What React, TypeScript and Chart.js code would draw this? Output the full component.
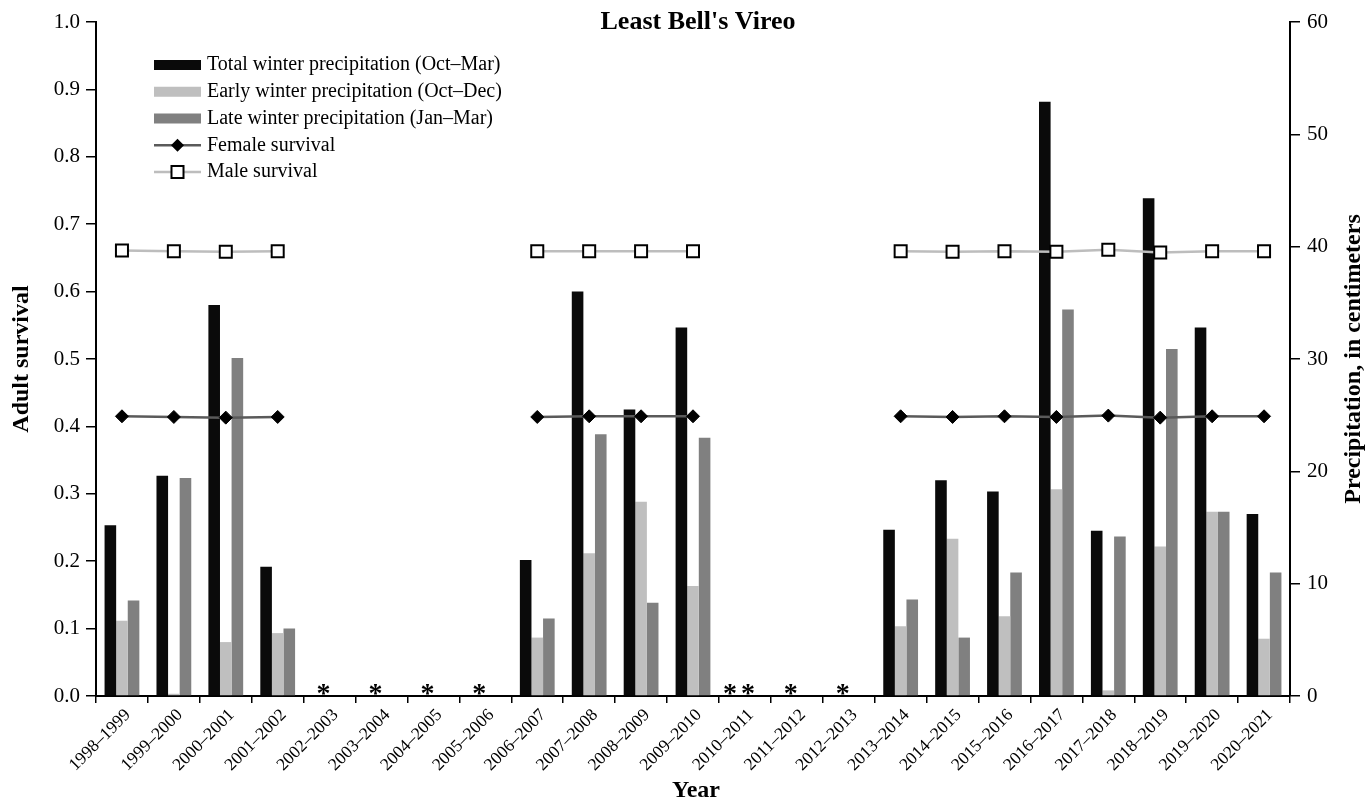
import React, { useEffect, useRef } from "react";
import { Chart, registerables } from "chart.js";

Chart.register(...registerables);

const years = [
  "1998–1999", "1999–2000", "2000–2001", "2001–2002", "2002–2003", "2003–2004",
  "2004–2005", "2005–2006", "2006–2007", "2007–2008", "2008–2009", "2009–2010",
  "2010–2011", "2011–2012", "2012–2013", "2013–2014", "2014–2015", "2015–2016",
  "2016–2017", "2017–2018", "2018–2019", "2019–2020", "2020–2021",
];

// precipitation, centimeters (right axis)
const totalPrecip = [15.2, 19.6, 34.8, 11.5, null, null, null, null, 12.1, 36.0, 25.5, 32.8, null, null, null, 14.8, 19.2, 18.2, 52.9, 14.7, 44.3, 32.8, 16.2];
const earlyPrecip = [6.7, 0.2, 4.8, 5.6, null, null, null, null, 5.2, 12.7, 17.3, 9.8, null, null, null, 6.2, 14.0, 7.1, 18.4, 0.5, 13.3, 16.4, 5.1];
const latePrecip = [8.5, 19.4, 30.1, 6.0, null, null, null, null, 6.9, 23.3, 8.3, 23.0, null, null, null, 8.6, 5.2, 11.0, 34.4, 14.2, 30.9, 16.4, 11.0];

// adult survival (left axis)
const femaleSurvival = [0.415, 0.414, 0.413, 0.414, null, null, null, null, 0.414, 0.415, 0.415, 0.415, null, null, null, 0.415, 0.414, 0.415, 0.414, 0.416, 0.413, 0.415, 0.415];
const maleSurvival = [0.661, 0.660, 0.659, 0.660, null, null, null, null, 0.660, 0.660, 0.660, 0.660, null, null, null, 0.660, 0.659, 0.660, 0.659, 0.662, 0.658, 0.660, 0.660];

// number of asterisks shown for years without data
const missingMarks = [0, 0, 0, 0, 1, 1, 1, 1, 0, 0, 0, 0, 2, 1, 1, 0, 0, 0, 0, 0, 0, 0, 0];

const seriesLabels = [
  "Total winter precipitation (Oct–Mar)",
  "Early winter precipitation (Oct–Dec)",
  "Late winter precipitation (Jan–Mar)",
  "Female survival",
  "Male survival",
];

const chartTitle = "Least Bell's Vireo";
const leftTitle = "Adult survival";
const rightTitle = "Precipitation, in centimeters";
const bottomTitle = "Year";

const SERIF = '"Liberation Serif", "Times New Roman", serif';

const overlayPlugin = {
  id: "overlay",
  afterDatasetsDraw(chart: any) {
    const { ctx, chartArea, scales } = chart;
    const xs = scales.x;
    ctx.save();
    ctx.fillStyle = "#000";
    ctx.font = `bold 28px ${SERIF}`;
    ctx.textAlign = "center";
    ctx.textBaseline = "alphabetic";
    missingMarks.forEach((n, i) => {
      if (!n) return;
      const cx = xs.getPixelForValue(i) - 6;
      for (let k = 0; k < n; k++) {
        const px = cx + (k - (n - 1) / 2) * 18;
        ctx.fillText("*", px, chartArea.bottom + 6);
      }
    });
    ctx.restore();
  },
  afterDraw(chart: any) {
    const { ctx, chartArea } = chart;
    const midX = (chartArea.left + chartArea.right) / 2;
    const midY = (chartArea.top + chartArea.bottom) / 2;
    ctx.save();
    ctx.fillStyle = "#000";
    // chart title
    ctx.font = `bold 26px ${SERIF}`;
    ctx.textAlign = "center";
    ctx.textBaseline = "middle";
    ctx.fillText(chartTitle, midX + 5, chartArea.top);
    // axis titles
    ctx.font = `bold 24px ${SERIF}`;
    ctx.save();
    ctx.translate(22, midY);
    ctx.rotate(-Math.PI / 2);
    ctx.fillText(leftTitle, 0, 0);
    ctx.restore();
    ctx.save();
    ctx.translate(1354, midY);
    ctx.rotate(-Math.PI / 2);
    ctx.fillText(rightTitle, 0, 0);
    ctx.restore();
    ctx.fillText(bottomTitle, midX + 3, 791);

    // legend
    const lx = chartArea.left + 58;
    const lw = 47;
    const y0 = 65;
    const dy = 26.75;
    ctx.font = `20px ${SERIF}`;
    ctx.textAlign = "left";
    chart.data.datasets.forEach((ds: any, i: number) => {
      const y = y0 + i * dy;
      if (ds.type === "bar") {
        ctx.fillStyle = ds.backgroundColor;
        ctx.fillRect(lx, y - 5, lw, 10);
      } else {
        ctx.strokeStyle = ds.borderColor;
        ctx.lineWidth = ds.borderWidth;
        ctx.beginPath();
        ctx.moveTo(lx, y);
        ctx.lineTo(lx + lw, y);
        ctx.stroke();
        const cx = lx + lw / 2;
        if (ds.pointStyle === "rectRot") {
          const r = ds.pointRadius;
          ctx.fillStyle = ds.pointBackgroundColor;
          ctx.beginPath();
          ctx.moveTo(cx - r, y);
          ctx.lineTo(cx, y - r);
          ctx.lineTo(cx + r, y);
          ctx.lineTo(cx, y + r);
          ctx.closePath();
          ctx.fill();
        } else {
          const h = ds.pointRadius * Math.SQRT1_2;
          ctx.fillStyle = ds.pointBackgroundColor;
          ctx.fillRect(cx - h, y - h, 2 * h, 2 * h);
          ctx.strokeStyle = ds.pointBorderColor;
          ctx.lineWidth = ds.pointBorderWidth;
          ctx.strokeRect(cx - h, y - h, 2 * h, 2 * h);
        }
      }
      ctx.fillStyle = "#000";
      ctx.fillText(ds.label, lx + lw + 6, y);
    });
    ctx.restore();
  },
};

export default function App() {
  const canvasRef = useRef<HTMLCanvasElement | null>(null);

  useEffect(() => {
    if (!canvasRef.current) return;
    Chart.defaults.font.family = SERIF;
    const barCommon = {
      type: "bar" as const,
      yAxisID: "y1",
      categoryPercentage: 0.67,
      barPercentage: 1.0,
      borderWidth: 0,
      order: 1,
    };
    const chart = new Chart(canvasRef.current, {
      type: "bar",
      data: {
        labels: years,
        datasets: [
          { ...barCommon, label: seriesLabels[0], data: totalPrecip, backgroundColor: "#0a0a0a" },
          { ...barCommon, label: seriesLabels[1], data: earlyPrecip, backgroundColor: "#bfbfbf" },
          { ...barCommon, label: seriesLabels[2], data: latePrecip, backgroundColor: "#808080" },
          {
            type: "line",
            label: seriesLabels[3],
            data: femaleSurvival,
            yAxisID: "y",
            borderColor: "#5a5a5a",
            borderWidth: 2.5,
            pointStyle: "rectRot",
            pointRadius: 6.5,
            pointBackgroundColor: "#000",
            pointBorderColor: "#000",
            pointBorderWidth: 1,
            spanGaps: false,
            tension: 0,
            order: 0,
          } as any,
          {
            type: "line",
            label: seriesLabels[4],
            data: maleSurvival,
            yAxisID: "y",
            borderColor: "#bdbdbd",
            borderWidth: 2.5,
            pointStyle: "rect",
            pointRadius: 8.5,
            pointBackgroundColor: "#fff",
            pointBorderColor: "#000",
            pointBorderWidth: 2,
            spanGaps: false,
            tension: 0,
            order: 0,
          } as any,
        ],
      },
      options: {
        animation: false,
        responsive: true,
        maintainAspectRatio: false,
        layout: { padding: { top: 22, left: 0, right: 0, bottom: 0 } },
        plugins: {
          legend: { display: false },
          title: { display: false },
          tooltip: { enabled: false },
        },
        scales: {
          x: {
            type: "category",
            offset: true,
            grid: { offset: true, drawOnChartArea: false, drawTicks: true, tickLength: 7, color: "#000", lineWidth: 1.5 },
            border: { display: true, color: "#000", width: 2 },
            ticks: {
              autoSkip: false,
              maxRotation: 45,
              minRotation: 45,
              color: "#000",
              font: { family: SERIF, size: 17.5 },
              padding: 2,
              labelOffset: 6,
            },
            afterFit: (s: any) => {
              s.height = 109;
            },
          },
          y: {
            position: "left",
            min: 0,
            max: 1,
            ticks: {
              stepSize: 0.1,
              callback: (v: any) => Number(v).toFixed(1),
              color: "#000",
              font: { family: SERIF, size: 21 },
              padding: 6,
            },
            grid: { drawOnChartArea: false, tickLength: 10, color: "#000", lineWidth: 1.5 },
            border: { display: true, color: "#000", width: 2 },
            afterFit: (s: any) => {
              s.width = 96;
            },
          },
          y1: {
            position: "right",
            min: 0,
            max: 60,
            ticks: {
              stepSize: 10,
              color: "#000",
              font: { family: SERIF, size: 21 },
              padding: 7,
            },
            grid: { drawOnChartArea: false, tickLength: 10, color: "#000", lineWidth: 1.5 },
            border: { display: true, color: "#000", width: 2 },
            afterFit: (s: any) => {
              s.width = 79;
            },
          },
        },
      } as any,
      plugins: [overlayPlugin],
    });
    return () => chart.destroy();
  }, []);

  return (
    <div style={{ position: "fixed", left: 0, top: 0, width: 1369, height: 805, background: "#fff" }}>
      <canvas ref={canvasRef} />
    </div>
  );
}
